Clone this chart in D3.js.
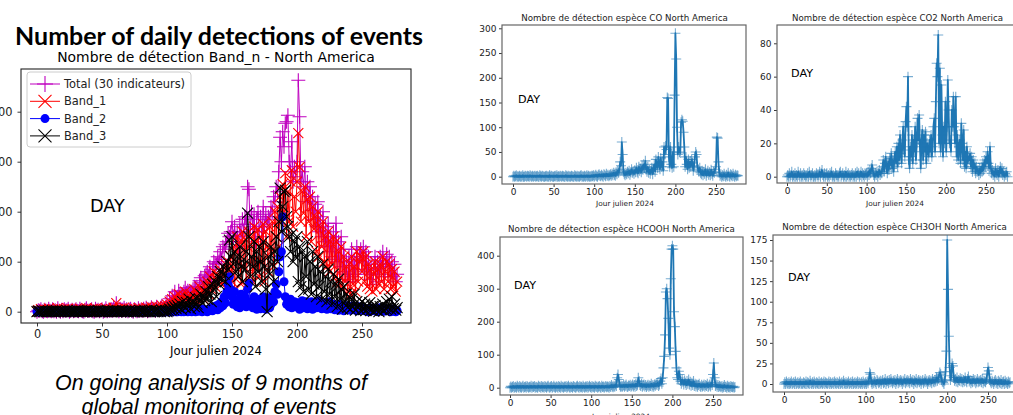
<!DOCTYPE html>
<html><head><meta charset="utf-8">
<script src="https://cdn.jsdelivr.net/npm/d3@7"></script>
<style>body{margin:0;background:#fff;overflow:hidden} svg{display:block}</style>
</head><body>
<svg id="c" width="1013" height="415"></svg>
<script>
// ---------------- DATA ----------------
const firstDay = 0; // day of first value in each series (Jour julien 2024)
const xTicks = [0, 50, 100, 150, 200, 250];
const leftYTicks = [0, 100, 200, 300, 400];
const coYTicks = [0, 50, 100, 150, 200, 250, 300];
const co2YTicks = [0, 20, 40, 60, 80];
const hcoohYTicks = [0, 100, 200, 300, 400];
const ch3ohYTicks = [0, 25, 50, 75, 100, 125, 150, 175];
const legendLabels = ["Total (30 indicateurs)", "Band_1", "Band_2", "Band_3"];
const speciesTitles = ["Nombre de détection espèce CO North America", "Nombre de détection espèce CO2 North America",
  "Nombre de détection espèce HCOOH North America", "Nombre de détection espèce CH3OH North America"];

const totalSeries = [
0,3,2,5,1,0,4,2,1,6, 2,1,5,1,3,0,7,2,0,4, 1,5,2,3,6,0,2,4,1,2, 5,2,1,6,3,1,0,4,7,2,
2,3,5,1,0,6,2,4,1,3, 5,0,2,7,1,3,2,5,2,8, 3,17,4,1,6,2,3,8,2,5, 1,4,6,2,0,5,3,1,7,2,
4,2,6,3,8,1,5,2,9,4, 6,2,10,5,3,8,12,4,7,10,
18,10,26,16,32,20,40,25,30,42, 35,33,34,40,48,38,42,40,38,40, 45,50,48,50,35,62,68,55,58,72,
75,80,70,90,60,85,100,97,95,110, 100,120,105,130,125,135,140,157,150,160,
180,150,170,140,160,130,175,150,185,160, 190,175,250,245,165,200,170,195,140,185,
200,160,190,150,210,170,195,175,190,185, 210,200,230,220,250,240,280,349,300,360,
330,377,380,393,300,280,340,260,290,270, 300,463,390,260,280,250,290,220,260,230,
250,203,230,185,215,170,220,160,190,150, 200,140,170,130,177,120,150,110,160,105,
177,100,140,90,150,80,125,75,100,65, 110,60,125,70,105,75,130,85,110,125,
100,130,80,120,75,110,65,95,55,85, 110,60,100,75,110,90,120,70,95,115, 90,110,75,100,70,95,60,75];

const band1 = [
0,3,0,5,1,0,4,2,0,6, 2,0,5,1,3,0,7,2,0,4, 1,5,0,3,6,0,2,4,1,0, 5,2,0,6,3,1,0,4,7,2,
0,3,5,1,0,6,2,4,0,3, 5,0,2,7,1,3,0,5,2,8, 3,17,4,1,6,0,3,8,2,5, 0,4,6,2,0,5,3,1,7,2,
4,0,6,3,8,1,5,2,9,4, 6,2,10,5,3,8,12,4,7,10,
14,8,20,12,25,15,30,18,22,35, 20,28,15,32,40,22,30,18,35,25, 30,45,22,38,28,50,35,42,25,55,
40,60,35,70,45,55,80,50,65,75, 60,85,55,90,70,95,65,100,80,110,
60,130,45,120,150,70,140,55,160,90, 145,50,130,160,75,150,60,170,90,140,
165,70,150,100,175,60,160,130,80,170, 120,180,90,200,150,210,130,230,180,255,
200,277,150,240,180,260,283,170,230,200, 260,357,289,180,240,197,250,150,225,180,
230,140,210,165,190,120,200,110,170,130, 180,100,150,90,160,80,140,95,150,70,
140,60,120,55,130,45,110,60,90,40, 95,35,110,55,90,40,120,60,100,110,
80,120,60,110,50,95,45,85,40,75, 100,45,85,55,95,60,110,45,80,100, 60,95,45,85,50,80,40,60];

const band2 = [
0,0,0,0,0,0,0,0,0,0, 0,0,0,0,0,0,0,0,0,0, 0,0,0,0,0,0,0,0,0,0, 0,0,0,0,0,0,0,0,0,0,
0,0,0,0,0,0,0,0,0,0, 0,0,0,0,0,0,0,0,0,0, 0,0,0,0,0,0,0,0,0,0, 0,0,0,0,0,0,0,0,0,0,
0,0,0,0,0,0,0,0,0,0, 0,0,0,0,0,0,0,0,0,0,
0,1,0,0,2,0,1,0,0,3, 1,0,2,0,4,1,0,3,2,0, 5,2,0,4,1,6,3,0,5,2,
2,0,5,3,8,2,10,6,12,4, 15,8,20,12,30,18,40,55,70,45,
30,15,40,20,10,25,8,35,12,18, 30,10,45,57,20,12,8,30,15,5,
10,25,6,18,30,12,5,20,28,8, 15,30,20,40,55,35,80,110,120,190,
60,30,15,20,10,25,8,15,20,10, 18,12,5,15,22,8,12,20,6,15,
10,20,5,18,12,8,15,22,10,6, 14,8,18,5,12,20,6,10,15,4,
12,8,3,15,6,10,2,8,12,5, 9,3,7,12,4,8,2,6,10,3,
5,8,2,6,3,0,4,7,2,5, 3,6,0,4,8,2,5,1,3,6, 2,4,0,3,5,1,0,2];

const band3 = [
0,1,0,0,2,0,1,0,0,1, 0,0,1,0,0,2,0,0,1,0, 1,0,0,2,0,1,0,0,0,1, 0,2,0,0,1,0,0,1,0,0,
2,0,1,0,0,1,0,2,0,0, 0,1,0,0,2,0,1,0,0,1, 1,0,0,1,0,0,2,0,1,0, 0,2,0,1,0,0,1,0,0,2,
1,0,0,2,0,1,0,0,3,0, 0,1,2,0,1,0,3,1,0,2,
0,2,5,3,8,4,10,6,12,8, 15,5,20,10,8,18,12,25,6,15, 20,10,28,15,8,25,35,18,30,22,
40,25,50,35,20,55,45,60,30,70, 55,80,65,90,75,60,100,85,143,110,
150,95,120,80,110,70,130,90,60,105, 85,120,197,150,70,110,90,140,50,120,
80,130,100,60,140,90,45,0,110,75, 130,95,60,120,150,100,180,247,160,210,
240,243,190,170,150,120,155,100,140,110, 150,60,130,50,120,40,110,70,140,45,
100,35,120,55,90,30,110,50,80,25, 95,40,70,20,85,35,60,15,75,30,
55,10,65,25,45,5,50,20,35,8, 30,5,25,10,35,3,20,8,15,2,
20,4,15,2,12,6,18,3,10,1, 12,3,8,0,10,4,15,2,6,20, 8,25,5,30,6,15,3,8];

const coSeries = [
0,2,0,1,3,0,1,0,2,0, 1,0,3,0,0,2,1,0,2,1, 0,3,1,0,2,0,1,2,0,1, 2,0,0,3,1,0,2,1,0,0,
1,2,0,1,0,3,0,2,1,0, 0,1,2,0,3,0,1,0,2,1, 0,2,1,0,0,3,1,0,2,0, 1,0,2,1,0,0,3,1,0,2,
0,1,0,2,3,0,1,0,2,0, 1,3,0,2,0,1,0,2,1,3,
0,2,4,1,0,3,5,2,1,4, 2,0,5,3,1,6,2,4,1,3, 5,2,6,3,8,4,2,9,5,12,
8,15,30,22,70,45,10,6,3,8, 5,10,7,12,4,9,15,8,11,6,
13,9,18,10,7,20,12,16,9,22, 14,25,18,32,15,10,20,8,14,6,
12,18,5,15,25,10,35,22,18,40, 25,15,38,20,30,12,60,45,62,55,
160,158,40,20,60,25,18,50,20,165, 290,238,100,45,60,50,48,110,115,112,
90,60,20,40,25,15,35,18,30,20, 35,28,12,22,40,50,45,20,15,10,
18,8,5,12,3,10,6,15,2,8, 12,4,9,3,14,6,2,10,8,15,
20,80,78,30,8,2,5,0,3,1, 6,2,0,4,1,8,2,0,5,3, 1,6,2,0,4,1,3,2];

const co2Series = [
0,1,0,2,0,1,3,0,1,0, 2,0,1,0,3,1,0,2,0,1, 0,2,1,0,1,0,2,0,3,1, 0,1,2,0,0,1,0,2,1,0,
1,3,0,2,4,1,0,2,0,1, 2,0,1,0,2,1,3,0,1,0, 0,2,1,0,1,0,2,3,0,1, 2,0,1,0,3,0,1,2,0,1,
0,1,2,0,1,0,2,0,3,1, 2,0,1,3,0,2,1,0,2,1,
2,0,3,1,4,2,5,7,3,1, 0,2,1,3,0,2,4,1,3,2, 6,10,3,8,12,5,2,9,4,11,
7,14,5,10,3,12,15,8,18,6, 20,10,25,14,8,22,30,16,12,33,
42,30,60,10,5,18,12,25,8,22, 15,30,10,20,35,22,37,18,5,22,
28,10,25,15,27,8,20,18,12,22, 15,25,12,18,30,35,15,45,68,60,
85,20,65,15,55,25,12,30,20,45, 15,30,58,40,20,22,15,40,30,48,
30,20,48,12,25,10,18,22,8,32, 20,10,28,6,15,5,18,8,12,10,
14,6,12,3,10,5,8,2,6,3, 4,1,5,2,6,3,8,4,10,6,
12,8,15,8,5,18,6,2,4,1, 3,0,5,2,1,4,0,3,6,2, 5,1,3,0,2,1,3,0];

const hcoohSeries = [
0,4,0,2,5,0,1,3,0,6, 2,0,5,1,0,3,6,0,2,4, 0,5,2,0,3,1,6,0,4,2, 5,0,3,1,0,6,2,4,0,5,
1,3,0,5,2,0,4,6,1,0, 3,5,0,2,6,1,0,4,3,0, 5,2,0,6,1,3,0,4,2,5, 0,3,6,1,0,4,2,0,5,3,
1,0,4,6,2,0,5,1,3,0, 6,2,0,4,1,5,0,3,6,2,
0,5,1,3,0,6,2,4,0,3, 5,1,0,6,2,4,0,3,5,1, 4,3,0,5,2,8,4,1,6,3,
10,5,30,40,25,8,3,6,2,5, 8,3,6,10,4,2,7,5,9,3,
6,10,4,8,3,12,5,9,30,20, 8,5,12,3,7,10,4,8,2,6,
9,3,7,5,12,4,8,3,10,6, 12,8,15,5,10,20,28,12,30,60,
95,160,290,300,270,210,120,100,330,420, 430,420,230,185,110,60,30,25,50,40,
20,12,25,18,10,22,15,8,20,12, 25,10,18,6,15,8,20,5,12,4,
10,3,8,12,5,2,9,4,6,10, 3,8,5,12,2,6,10,4,15,8,
40,75,30,5,10,3,8,2,6,4, 1,5,0,3,8,2,4,0,6,1, 3,0,5,2,1,4,0,2];

const ch3ohSeries = [
0,2,0,3,1,0,2,0,1,3, 0,1,2,0,3,0,1,2,0,1, 3,0,1,0,2,1,0,3,0,2, 1,0,4,1,0,2,0,3,1,0,
2,1,0,3,0,1,2,0,1,3, 0,2,1,0,1,3,0,2,0,1, 2,0,3,1,0,2,1,0,3,0, 1,2,0,4,1,0,2,0,1,3,
0,1,2,0,3,0,1,2,0,1, 3,0,2,1,0,2,0,3,1,0,
2,0,3,1,4,14,12,2,0,3, 1,4,2,0,5,3,1,2,4,0, 3,5,1,2,6,0,3,4,1,5,
2,6,3,1,4,2,5,0,3,6, 1,4,2,5,3,0,4,2,6,1,
3,5,2,4,1,6,3,2,5,0, 4,2,6,1,3,5,2,4,0,3,
5,1,3,6,2,4,0,3,5,2, 4,1,6,3,2,5,3,8,4,6,
10,14,12,5,3,2,0,4,15,40, 175,115,58,20,5,10,25,22,8,4,
6,3,8,2,5,4,7,3,6,2, 5,3,8,4,2,6,9,3,5,1,
4,2,6,3,5,1,3,6,2,4, 3,5,2,6,1,4,3,2,5,12,
20,16,5,3,1,4,2,0,3,5, 1,3,0,4,2,1,5,0,2,3, 0,4,1,2,0,3,1,2];

// ---------------- DRAWING ----------------
const svg = d3.select("#c");
const DJ = "DejaVu Sans, Verdana, sans-serif";

function fitText(sel, w) {
  const n = sel.node();
  const cur = n.getComputedTextLength();
  const fs = parseFloat(sel.attr("font-size"));
  if (cur > 0) sel.attr("font-size", (fs * w / cur).toFixed(2));
  return sel;
}
function addText(x, y, str, opt) {
  const t = svg.append("text").attr("x", x).attr("y", y).text(str)
    .attr("font-family", opt.family || DJ).attr("font-size", opt.size || 10)
    .attr("fill", opt.fill || "#000").attr("text-anchor", opt.anchor || "start");
  if (opt.weight) t.attr("font-weight", opt.weight);
  if (opt.style) t.attr("font-style", opt.style);
  if (opt.width) fitText(t, opt.width);
  return t;
}
const plusPath = s => `M${-s},0H${s}M0,${-s}V${s}`;
const xPath = s => `M${-s},${-s}L${s},${s}M${-s},${s}L${s},${-s}`;

function makeAxes(g, x, y, frame, yTicks, o) {
  const ax = g.append("g").attr("transform", `translate(0,${frame.b})`)
    .call(d3.axisBottom(x).tickValues(xTicks).tickSize(o.tick).tickPadding(o.pad).tickFormat(d3.format("d")));
  const ay = g.append("g").attr("transform", `translate(${frame.l},0)`)
    .call(d3.axisLeft(y).tickValues(yTicks).tickSize(o.tick).tickPadding(o.ypad).tickFormat(d3.format("d")));
  [ax, ay].forEach(a => {
    a.select(".domain").remove();
    a.selectAll("text").attr("font-family", DJ).attr("font-size", o.font).attr("fill", "#222");
    a.selectAll("line").attr("stroke", "#222").attr("stroke-width", 0.9);
  });
  g.append("rect").attr("x", frame.l).attr("y", frame.t)
    .attr("width", frame.r - frame.l).attr("height", frame.b - frame.t)
    .attr("fill", "none").attr("stroke", o.frameColor).attr("stroke-width", o.frameW);
}

function drawSeries(g, x, y, vals, st) {
  const line = d3.line().x((d, i) => x(firstDay + i)).y(d => y(d));
  g.append("path").datum(vals).attr("d", line).attr("fill", "none")
    .attr("stroke", st.color).attr("stroke-width", st.lw).attr("stroke-linejoin", "round");
  const m = g.append("g");
  vals.forEach((v, i) => {
    const cx = x(firstDay + i), cy = y(v);
    if (st.marker === "o") {
      m.append("circle").attr("cx", cx).attr("cy", cy).attr("r", st.ms).attr("fill", st.color);
    } else {
      m.append("path").attr("transform", `translate(${cx},${cy})`)
        .attr("d", st.marker === "+" ? plusPath(st.ms) : xPath(st.ms))
        .attr("fill", "none").attr("stroke", st.color).attr("stroke-width", st.mw)
        .attr("stroke-opacity", st.mo || 1);
    }
  });
}

// ---- Left big chart ----
addText(219, 45, "Number of daily detections of events", {family: "Lato, 'Open Sans', sans-serif", weight: 700, size: 26, anchor: "middle", width: 408});
addText(216, 62, "Nombre de détection Band_n - North America", {size: 13.5, anchor: "middle", width: 318});

const LF = {l: 21, t: 69, r: 411, b: 323};
const lx = d3.scaleLinear().domain([0, 250]).range([37, 362]);
const ly = d3.scaleLinear().domain([0, 400]).range([311.7, 111.7]);
const lg = svg.append("g");
makeAxes(lg, lx, ly, LF, leftYTicks, {tick: 3.5, pad: 3.5, ypad: 5, font: 11.4, frameColor: "#222", frameW: 1.1});
const leftStyles = [
  {color: "#bf00bf", lw: 1, marker: "+", ms: 7, mw: 1.1},
  {color: "#ff0000", lw: 1, marker: "x", ms: 5, mw: 1.1},
  {color: "#0000ff", lw: 1, marker: "o", ms: 4.5},
  {color: "#000000", lw: 1, marker: "x", ms: 5.5, mw: 1.1}
];
const leftData = [totalSeries, band1, band2, band3];
leftData.forEach((s, k) => drawSeries(lg, lx, ly, s, leftStyles[k]));

addText(216, 355, "Jour julien 2024", {size: 12, anchor: "middle", width: 92});
addText(90, 212, "DAY", {size: 17, width: 35});

// legend
const leg = svg.append("g");
leg.append("rect").attr("x", 27).attr("y", 72).attr("width", 164).attr("height", 75).attr("rx", 3)
  .attr("fill", "#fff").attr("fill-opacity", 0.85).attr("stroke", "#ccc").attr("stroke-width", 1);
legendLabels.forEach((lab, k) => {
  const yy = 84 + k * 17.3, st = leftStyles[k];
  leg.append("line").attr("x1", 30).attr("x2", 60).attr("y1", yy).attr("y2", yy).attr("stroke", st.color).attr("stroke-width", 1);
  if (st.marker === "o") leg.append("circle").attr("cx", 45).attr("cy", yy).attr("r", 4.5).attr("fill", st.color);
  else leg.append("path").attr("transform", `translate(45,${yy})`).attr("d", st.marker === "+" ? plusPath(8) : xPath(6.5))
    .attr("fill", "none").attr("stroke", st.color).attr("stroke-width", 1.1);
  const t = leg.append("text").attr("x", 64).attr("y", yy + 4).text(lab)
    .attr("font-family", DJ).attr("font-size", 11.4).attr("fill", "#222");
  if (k === 0) fitText(t, 121);
});

addText(211, 390, "On going analysis of 9 months of", {family: "'Liberation Sans', Arial, sans-serif", style: "italic", size: 19, anchor: "middle", width: 312});
addText(209, 414, "global monitoring of events", {family: "'Liberation Sans', Arial, sans-serif", style: "italic", size: 19, anchor: "middle", width: 255});

// ---- Right species panels ----
const panels = [
  {vals: coSeries, ticks: coYTicks, frame: {l: 502, t: 25, r: 746, b: 184}, x0: 513, x250: 716, y0: 176.7, yTop: 28.3, yTopVal: 300,
   title: speciesTitles[0], tx: 624.5, ty: 21, tw: 207, xl: {x: 625, y: 206}, day: {x: 518, y: 103}},
  {vals: co2Series, ticks: co2YTicks, frame: {l: 777, t: 25, r: 1016, b: 183}, x0: 787, x250: 986, y0: 176.7, yTop: 43.3, yTopVal: 80,
   title: speciesTitles[1], tx: 897.5, ty: 21, tw: 211, xl: {x: 895, y: 206}, day: {x: 791, y: 77}},
  {vals: hcoohSeries, ticks: hcoohYTicks, frame: {l: 500, t: 237, r: 743, b: 395}, x0: 510, x250: 713, y0: 387.7, yTop: 255.7, yTopVal: 400,
   title: speciesTitles[2], tx: 621.5, ty: 232, tw: 227, xl: {x: 621, y: 419}, day: {x: 514, y: 289}},
  {vals: ch3ohSeries, ticks: ch3ohYTicks, frame: {l: 773, t: 235, r: 1015, b: 392}, x0: 784, x250: 988, y0: 384, yTop: 240, yTopVal: 175,
   title: speciesTitles[3], tx: 894.5, ty: 230, tw: 225, xl: null, day: {x: 788, y: 281}}
];
panels.forEach(p => {
  const g = svg.append("g");
  const x = d3.scaleLinear().domain([0, 250]).range([p.x0, p.x250]);
  const y = d3.scaleLinear().domain([0, p.yTopVal]).range([p.y0, p.yTop]);
  makeAxes(g, x, y, p.frame, p.ticks, {tick: 3, pad: 2, ypad: 2.5, font: 9, frameColor: "#666", frameW: 1.2});
  drawSeries(g, x, y, p.vals, {color: "#1f77b4", lw: 1.8, marker: "+", ms: 5, mw: 1.1, mo: 0.6});
  addText(p.tx, p.ty, p.title, {size: 8, anchor: "middle", width: p.tw, fill: "#222"});
  if (p.xl) addText(p.xl.x, p.xl.y, "Jour julien 2024", {size: 7.5, anchor: "middle", width: 58, fill: "#222"});
  addText(p.day.x, p.day.y, "DAY", {size: 12, width: 22});
});
</script>
</body></html>
